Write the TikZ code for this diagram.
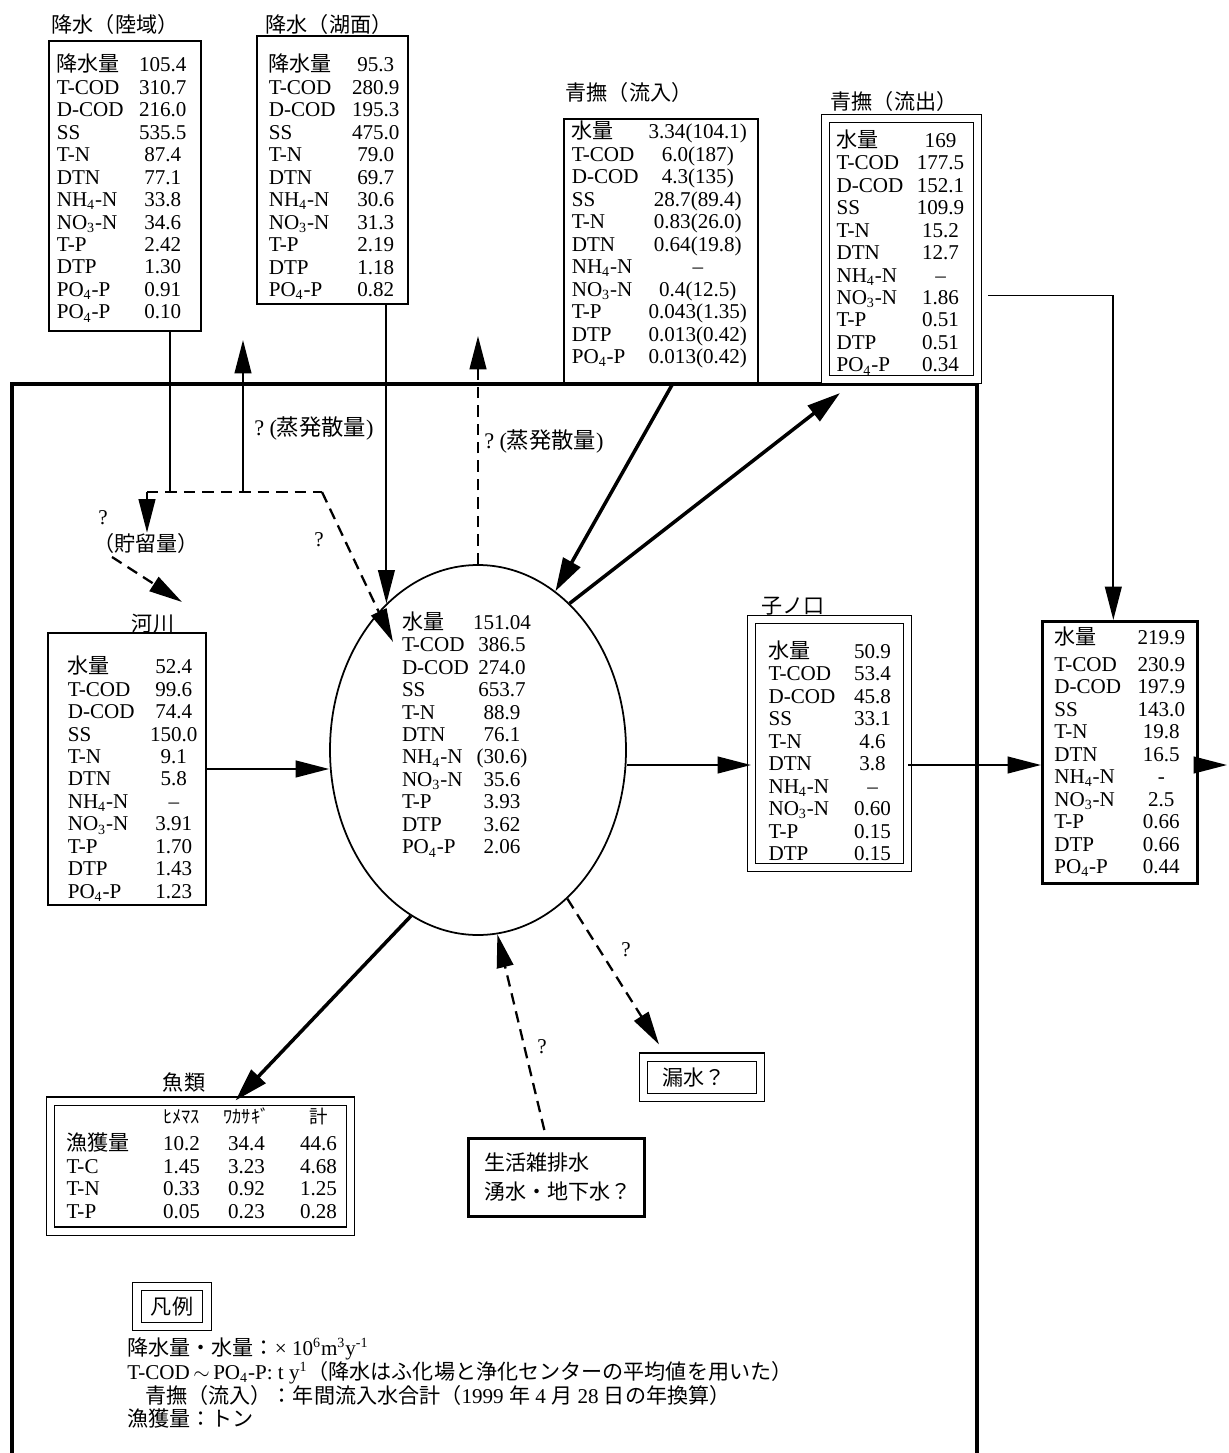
\documentclass[tikz,border=0pt]{standalone}
\usepackage{fontspec}
\usepackage{array}
\setmainfont{Liberation Serif}
\newfontfamily\jp{Noto Sans CJK JP}
\usetikzlibrary{arrows.meta,shapes.geometric}
\newdimen\pxu
\pxu=0.02cm
\newcommand\J[1]{{\jp #1}}
\newcommand\Js[1]{\smash{\jp #1}}
\newcommand\Hd[1]{\smash{\jp\fontsize{10.5}{12}\selectfont #1}}
\newcommand\tabtwo[4][0]{\begin{tabular}{@{}w{l}{#2\pxu}@{}w{c}{#3\pxu}@{}}\noalign{\vskip#1\pxu}#4\end{tabular}}
\begin{document}
\begin{tikzpicture}[x=0.02cm,y=-0.02cm,
    box/.style={draw,line width=0.9pt,anchor=north west,inner ysep=0pt,font=\fontsize{12}{12.8}\selectfont},
    dbl/.style={double,double distance=4pt,line width=0.6pt},
    heavy/.style={line width=1.5pt},
    lbl/.style={inner sep=0pt,font=\fontsize{12}{14}\selectfont},
    jlbl/.style={inner sep=0pt,font=\jp\fontsize{12}{14}\selectfont},
    flow/.style={line width=1.1pt,-{Triangle[length=19pt,width=9.5pt]}},
    bold/.style={line width=2pt,-{Triangle[length=19pt,width=11pt]}},
    dline/.style={line width=1.3pt,dash pattern=on 6.5pt off 4pt},
    dashflow/.style={dline,-{Triangle[length=19pt,width=9.5pt]}}]
  \useasboundingbox (0,0) rectangle (1228,1453);
  \draw[line width=2.5pt] (12,1453) |- (977,384) -- (977,1453);

  \node[jlbl] (rainlandtitle) at (115,24) {降水（陸域）};
  \node[box,inner xsep=8\pxu,text width=136\pxu,minimum height=290\pxu] (rainland) at (48,40) {\tabtwo[10]{81}{50}{%
    \Js{降水量} & 105.4\\ T-COD & 310.7\\ D-COD & 216.0\\ SS & 535.5\\ T-N & 87.4\\ DTN & 77.1\\
    NH\textsubscript{4}-N & 33.8\\ NO\textsubscript{3}-N & 34.6\\ T-P & 2.42\\ DTP & 1.30\\
    PO\textsubscript{4}-P & 0.91\\ PO\textsubscript{4}-P & 0.10}};

  \node[jlbl] (rainlaketitle) at (329,24) {降水（湖面）};
  \node[box,inner xsep=12\pxu,text width=127\pxu,minimum height=268\pxu] (rainlake) at (256,35) {\tabtwo[20]{82}{50}{%
    \Js{降水量} & 95.3\\ T-COD & 280.9\\ D-COD & 195.3\\ SS & 475.0\\ T-N & 79.0\\ DTN & 69.7\\
    NH\textsubscript{4}-N & 30.6\\ NO\textsubscript{3}-N & 31.3\\ T-P & 2.19\\ DTP & 1.18\\
    PO\textsubscript{4}-P & 0.82}};

  \node[jlbl] (inflowtitle) at (629,92) {青撫（流入）};
  \node[box,inner xsep=8\pxu,text width=178\pxu,minimum height=264\pxu] (inflow) at (563,118) {\tabtwo[-8]{71}{110}{%
    \Js{水量} & 3.34(104.1)\\ T-COD & 6.0(187)\\ D-COD & 4.3(135)\\ SS & 28.7(89.4)\\ T-N & 0.83(26.0)\\
    DTN & 0.64(19.8)\\ NH\textsubscript{4}-N & --\\ NO\textsubscript{3}-N & 0.4(12.5)\\ T-P & 0.043(1.35)\\
    DTP & 0.013(0.42)\\ PO\textsubscript{4}-P & 0.013(0.42)}};

  \node[jlbl] (outflowtitle) at (894,101) {青撫（流出）};
  \node[box,dbl,inner xsep=11\pxu,text width=130\pxu,minimum height=261\pxu] (outflow) at (825,118) {\tabtwo[12]{79}{50}{%
    \Js{水量} & 169\\ T-COD & 177.5\\ D-COD & 152.1\\ SS & 109.9\\ T-N & 15.2\\ DTN & 12.7\\
    NH\textsubscript{4}-N & --\\ NO\textsubscript{3}-N & 1.86\\ T-P & 0.51\\ DTP & 0.51\\
    PO\textsubscript{4}-P & 0.34}};

  \node[jlbl] (rivertitle) at (153,624) {河川};
  \node[box,inner xsep=20\pxu,text width=118\pxu,minimum height=268\pxu] (river) at (47,632) {\tabtwo[25]{81}{50}{%
    \Js{水量} & 52.4\\ T-COD & 99.6\\ D-COD & 74.4\\ SS & 150.0\\ T-N & 9.1\\ DTN & 5.8\\
    NH\textsubscript{4}-N & --\\ NO\textsubscript{3}-N & 3.91\\ T-P & 1.70\\ DTP & 1.43\\
    PO\textsubscript{4}-P & 1.23}};

  \node[draw,ellipse,line width=1pt,minimum width=296\pxu,minimum height=370\pxu,inner sep=0pt] (lake) at (478,750) {};
  \node[lbl,font=\fontsize{12}{12.8}\selectfont] (lakedata) at (467,737) {\tabtwo{70}{60}{%
    \Js{水量} & 151.04\\ T-COD & 386.5\\ D-COD & 274.0\\ SS & 653.7\\ T-N & 88.9\\ DTN & 76.1\\
    NH\textsubscript{4}-N & (30.6)\\ NO\textsubscript{3}-N & 35.6\\ T-P & 3.93\\ DTP & 3.62\\
    PO\textsubscript{4}-P & 2.06}};

  \node[jlbl] (nenokuchititle) at (793,606) {子ノ口};
  \node[box,dbl,inner xsep=17\pxu,text width=122\pxu,minimum height=243\pxu] (nenokuchi) at (751,619) {\tabtwo[23]{79}{50}{%
    \Js{水量} & 50.9\\ T-COD & 53.4\\ D-COD & 45.8\\ SS & 33.1\\ T-N & 4.6\\ DTN & 3.8\\
    NH\textsubscript{4}-N & --\\ NO\textsubscript{3}-N & 0.60\\ T-P & 0.15\\ DTP & 0.15}};

  \node[box,heavy,inner xsep=12\pxu,text width=131\pxu,minimum height=262\pxu] (total) at (1041,620) {\tabtwo[5]{82}{50}{%
    \Js{水量} & 219.9\\[4\pxu] T-COD & 230.9\\ D-COD & 197.9\\ SS & 143.0\\ T-N & 19.8\\ DTN & 16.5\\
    NH\textsubscript{4}-N & -\\ NO\textsubscript{3}-N & 2.5\\ T-P & 0.66\\ DTP & 0.66\\
    PO\textsubscript{4}-P & 0.44}};

  \node[jlbl] (fishtitle) at (184,1082) {魚類};
  \node[box,dbl,inner xsep=16\pxu,text width=268\pxu,minimum height=130\pxu] (fish) at (50,1100.5) {%
    \begin{tabular}{@{}w{l}{84\pxu}@{}w{c}{62\pxu}@{}w{c}{68\pxu}@{}w{c}{76\pxu}@{}}
      & \Hd{ﾋﾒﾏｽ} & \Hd{ﾜｶｻｷﾞ} & \Hd{計}\\[5\pxu]
      \Js{漁獲量} & 10.2 & 34.4 & 44.6\\
      T-C & 1.45 & 3.23 & 4.68\\
      T-N & 0.33 & 0.92 & 1.25\\
      T-P & 0.05 & 0.23 & 0.28
    \end{tabular}};

  \node[box,dbl,inner xsep=19\pxu,text width=79\pxu,minimum height=40.5\pxu,font=\jp\fontsize{12}{14}\selectfont] (leak) at (643,1056.5) {漏水？};
  \node[box,heavy,inner xsep=16\pxu,text width=144\pxu,minimum height=78\pxu,align=left,font=\jp\fontsize{12}{16.4}\selectfont] (domestic) at (467,1137) {生活雑排水\\湧水・地下水？};

  \node[box,dbl,anchor=center,minimum width=70\pxu,minimum height=40\pxu,inner sep=0pt,font=\jp\fontsize{12}{14}\selectfont] (legend) at (172,1306.5) {凡例};
  \node[lbl,anchor=base west] (leg1) at (127,1355) {\J{降水量・水量：}× 10\textsuperscript{6}m\textsuperscript{3}y\textsuperscript{-1}};
  \node[lbl,anchor=base west] (leg2) at (127,1379) {T-COD\,$\sim$\,PO\textsubscript{4}-P: t y\textsuperscript{1}\J{（降水はふ化場と浄化センターの平均値を用いた）}};
  \node[lbl,anchor=base west] (leg3) at (145,1403) {\J{青撫（流入）：年間流入水合計（}1999 \J{年} 4 \J{月} 28 \J{日の年換算）}};
  \node[jlbl,anchor=base west] (leg4) at (127,1426) {漁獲量：トン};

  \node[lbl,anchor=west,font=\fontsize{12.7}{14}\selectfont] (evap1) at (254,428) {?\hspace{3pt}(\J{蒸発散量})};
  \node[lbl,anchor=west,font=\fontsize{12.7}{14}\selectfont] (evap2) at (484,441) {?\hspace{3pt}(\J{蒸発散量})};
  \node[jlbl] (storage) at (146,543) {（貯留量）};
  \node[lbl] (q1) at (103,518) {?};
  \node[lbl] (q2) at (319,540) {?};
  \node[lbl] (q3) at (626,950) {?};
  \node[lbl] (q4) at (542,1047) {?};

  \coordinate (j0) at (147,492);
  \coordinate (j1) at (170,492);
  \coordinate (j2) at (243,492);
  \coordinate (j3) at (322,492);
  \coordinate (evtip1) at (243,340);
  \coordinate (evtip2) at (478,336);
  \coordinate (dtip) at (393,642);
  \coordinate (s1) at (112,557);
  \coordinate (s2) at (182,602);
  \coordinate (axis) at (0,765);
  \coordinate (outend) at (1227,765);

  \draw[line width=1.1pt] (j1 |- rainland.south) -- (j1);
  \draw[dline] (j0) -- (j3);
  \draw[flow] (j0) -- (j0 |- storage.north);
  \draw[flow] (j2) -- (evtip1);
  \draw[dashflow] (j3) -- (dtip);
  \draw[dashflow] (s1) -- (s2);
  \draw[flow] (rainlake.south -| lake.122) -- (lake.122);
  \draw[dashflow] (lake.north) -- (evtip2);
  \draw[bold] ([xshift=12\pxu]inflow.south) -- (lake.64);
  \draw[bold] (lake.58) -- ([shift={(15,13)}]outflow.south west);
  \draw[flow] ([shift={(10,46.5)}]outflow.east) -| ([xshift=-6.5\pxu]total.north);
  \draw[flow] (river.east) -- (river.east -| lake.west);
  \draw[flow] (lake.east |- axis) -- (nenokuchi.west |- axis);
  \draw[flow] (nenokuchi.east |- axis) -- (total.west |- axis);
  \draw[flow] (total.east |- axis) -- (outend);
  \draw[bold] (lake.248) -- ([xshift=35\pxu]fish.north);
  \draw[dashflow] ([shift={(-12,-7)}]domestic.north) -- (lake.276);
  \draw[dashflow] (lake.301) -- ([shift={(-43,-12)}]leak.north);
\end{tikzpicture}
\end{document}
